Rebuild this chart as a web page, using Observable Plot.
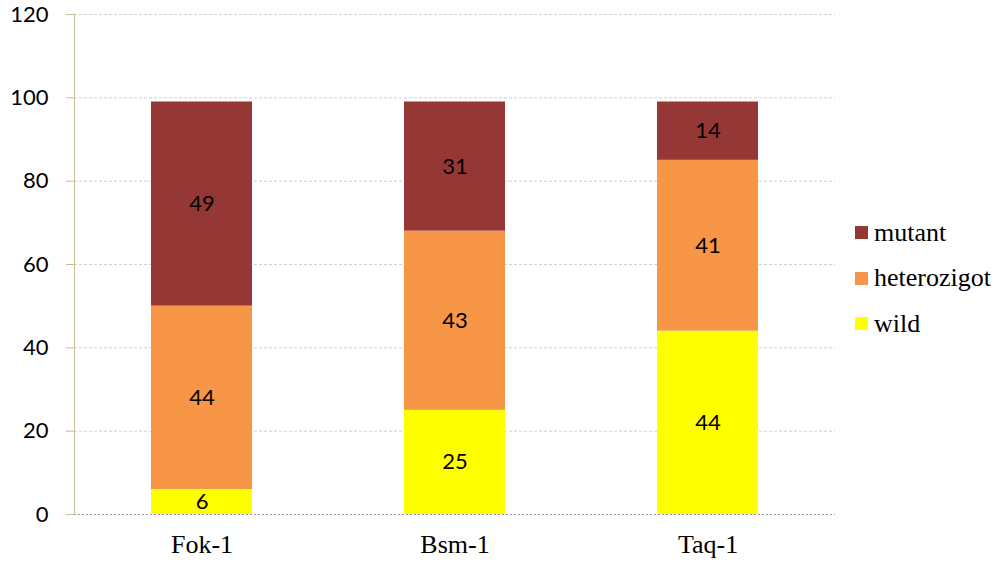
<!DOCTYPE html>
<html><head><meta charset="utf-8">
<script src="https://cdn.jsdelivr.net/npm/d3@7"></script>
<script src="https://cdn.jsdelivr.net/npm/@observablehq/plot@0.6"></script>
</head>
<body style="margin:0;background:#fff">
<div id="wrap" style="position:relative;width:1004px;height:565px"></div>
<script>
const categories = ["Fok-1", "Bsm-1", "Taq-1"];
const series = ["wild", "heterozigot", "mutant"];
const wild = [6, 25, 44];
const heterozigot = [44, 43, 41];
const mutant = [49, 31, 14];
const colors = ["#FFFF00", "#F79646", "#953735"];
const yTicks = [0, 20, 40, 60, 80, 100, 120];

const serifFont = "'Liberation Serif', serif";
const sansFont = "Lato, sans-serif";

const values = {wild, heterozigot, mutant};
const data = [];
series.forEach(s => categories.forEach((c, i) => data.push({cat: c, series: s, value: values[s][i]})));

const chart = Plot.plot({
  width: 1004, height: 565,
  marginLeft: 74, marginRight: 169, marginTop: 14, marginBottom: 51,
  x: {domain: categories, paddingInner: 0.6, paddingOuter: 0.3, label: null, axis: null},
  y: {domain: [0, 120], label: null, axis: null},
  color: {domain: series, range: colors},
  marks: [
    Plot.gridY(yTicks.filter(d => d > 0), {stroke: "#d0d0d0", strokeOpacity: 1, strokeDasharray: "3,2"}),
    Plot.barY(data, Plot.stackY({x: "cat", y: "value", fill: "series", order: series})),
    Plot.text(data, Plot.stackY({x: "cat", y: "value", z: "series", order: series, text: d => String(d.value), fontSize: 22, fill: "#000", fontFamily: sansFont})),
    Plot.ruleY([0], {stroke: "#999", strokeDasharray: "2,2"}),
    Plot.axisY({ticks: yTicks, tickSize: 8, tickPadding: 18, stroke: "#C4BD97", fontSize: 22, fill: "#000", fontFamily: sansFont}),
    Plot.frame({anchor: "left", stroke: "#C4BD97"}),
    Plot.axisX({tickSize: 0, tickPadding: 20, fontSize: 26, fill: "#000", fontFamily: serifFont})
  ]
});
chart.style.position = "absolute"; chart.style.left = "0"; chart.style.top = "0";
const wrap = document.getElementById("wrap");
wrap.appendChild(chart);

const legend = document.createElement("div");
legend.style.cssText = "position:absolute;left:855px;top:210px;font-family:'Liberation Serif', serif;font-size:26px;color:#000";
[...series].reverse().forEach(s => {
  const r = document.createElement("div");
  r.style.cssText = "display:flex;align-items:center;height:45.5px";
  const sw = document.createElement("div");
  sw.style.cssText = "width:13px;height:13px;margin-right:6px;background:" + colors[series.indexOf(s)];
  const t = document.createElement("span"); t.textContent = s;
  r.appendChild(sw); r.appendChild(t); legend.appendChild(r);
});
wrap.appendChild(legend);
</script></body></html>
